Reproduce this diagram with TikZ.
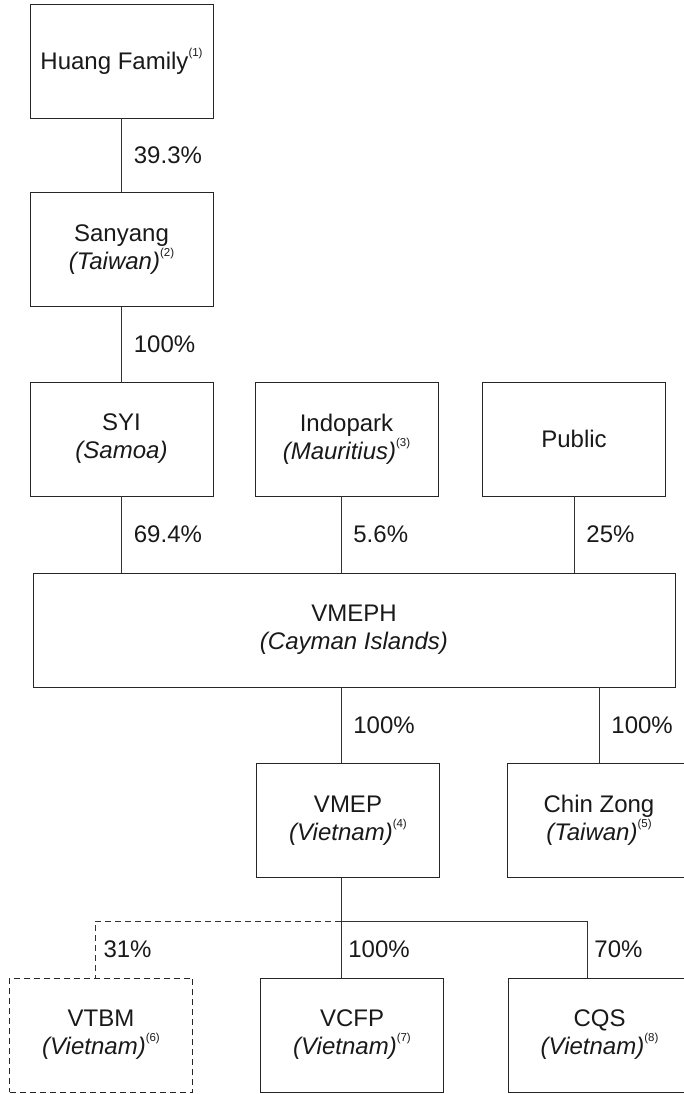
\documentclass[tikz,border=0pt]{standalone}
\usepackage{fontspec}
\setmainfont{Liberation Sans}
\usepackage{tikz}
\usetikzlibrary{positioning}

\newcommand{\fnote}[1]{\raisebox{13pt}{\fontsize{11.5}{11.5}\selectfont(#1)}}
\newcommand{\place}[1]{{\itshape(#1)}}

\begin{document}
\begin{tikzpicture}[x=1pt, y=-1pt,
	box/.style={rectangle, draw=black!85, line width=0.9pt, minimum width=183pt, minimum height=114pt, inner sep=0pt, align=center, text=black!90, font=\fontsize{24}{28}\selectfont},
	link/.style={draw=black!80, line width=0.8pt},
	dashlink/.style={link, dash pattern=on 6pt off 4pt},
	pct/.style={anchor=west, inner sep=0pt, xshift=12pt, text=black!90, font=\fontsize{24}{28}\selectfont}]
		\useasboundingbox (0,0) rectangle (684,1094);

		% Nodes
		\node [box] (huang) at (121.5,61) {Huang Family\fnote{1}};
		\node [box] (sanyang) at (121.5,249.5) {Sanyang\\\place{Taiwan}\fnote{2}};
		\node [box] (syi) at (121.5,439) {SYI\\\place{Samoa}};
		\node [box] (indopark) at (346.5,439) {Indopark\\\place{Mauritius}\fnote{3}};
		\node [box] (public) at (574,439) {Public};
		\node [box, minimum width=642pt] (vmeph) at (354,630) {VMEPH\\\place{Cayman Islands}};
		\node [box] (vmep) at (348,820.5) {VMEP\\\place{Vietnam}\fnote{4}};
		\node [box] (chinzong) at (599,820.5) {Chin Zong\\\place{Taiwan}\fnote{5}};
		\node [box, line width=1pt, dash pattern=on 6pt off 4pt] (vtbm) at (101,1035) {VTBM\\\place{Vietnam}\fnote{6}};
		\node [box] (vcfp) at (352,1035) {VCFP\\\place{Vietnam}\fnote{7}};
		\node [box] (cqs) at (599.5,1035) {CQS\\\place{Vietnam}\fnote{8}};

		\coordinate (split) at (341,921);
		\coordinate (vtbmdrop) at (95,921);
		\coordinate (cqsdrop) at (587,921);

		% Lines
		\draw [link] (huang) -- (sanyang) node [pct, midway] (p1) {39.3\%};
		\draw [link] (sanyang) -- (syi) node [pct, midway] (p2) {100\%};
		\draw [link] (syi.south) -- (syi.south |- vmeph.north) node [pct, midway] (p3) {69.4\%};
		\draw [link] (indopark.south -| split) -- (vmeph.north -| split) node [pct, midway] (p4) {5.6\%};
		\draw [link] (public.south) -- (public.south |- vmeph.north) node [pct, midway] (p5) {25\%};
		\draw [link] (vmeph.south -| split) -- (vmep.north -| split) node [pct, midway] (p6) {100\%};
		\draw [link] (vmeph.south -| chinzong) -- (chinzong.north) node [pct, midway] (p7) {100\%};
		\draw [link] (vmep.south -| split) -- (split);
		\draw [dashlink, line width=1pt] (split) -- (vtbmdrop) -- (vtbmdrop |- vtbm.north) node [pct, midway, xshift=-4pt] (p8) {31\%};
		\draw [link] (split) -- (vcfp.north -| split) node [pct, midway, xshift=-5pt] (p9) {100\%};
		\draw [link] (split) -- (cqsdrop) -- (cqsdrop |- cqs.north) node [pct, midway, xshift=-5pt] (p10) {70\%};
	\end{tikzpicture}
\end{document}
